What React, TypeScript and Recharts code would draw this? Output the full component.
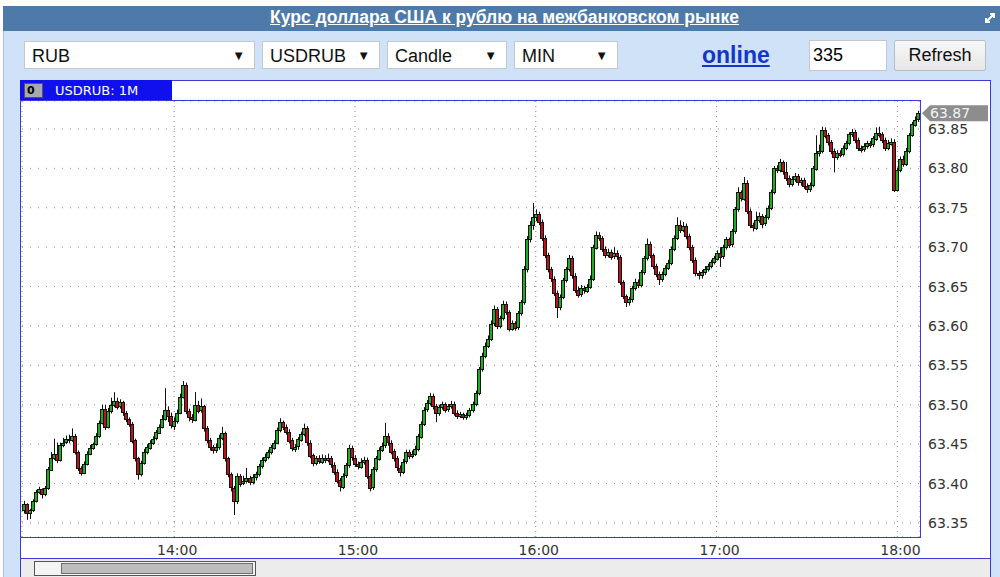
import React from "react";
import {
  ComposedChart,
  Bar,
  XAxis,
  YAxis,
  CartesianGrid,
  ReferenceLine,
} from "recharts";

// USD/RUB one-minute candles, 13:10 .. 18:07
const startMinute = 790; // 13:10, minutes from midnight
const firstOpen = 63.366;

const closes = [
  63.374, 63.362, 63.366, 63.378, 63.389, 63.393, 63.387, 63.394, 63.418, 63.433,
  63.438, 63.430, 63.449, 63.452, 63.456, 63.455, 63.460, 63.440, 63.420, 63.414,
  63.425, 63.438, 63.445, 63.450, 63.460, 63.477, 63.495, 63.472, 63.492, 63.500,
  63.505, 63.498, 63.503, 63.490, 63.482, 63.476, 63.455, 63.432, 63.412, 63.426,
  63.440, 63.446, 63.452, 63.457, 63.465, 63.472, 63.482, 63.494, 63.486, 63.474,
  63.480, 63.490, 63.510, 63.525, 63.492, 63.484, 63.481, 63.500, 63.493, 63.498,
  63.470, 63.455, 63.446, 63.442, 63.446, 63.458, 63.464, 63.432, 63.412, 63.395,
  63.378, 63.410, 63.400, 63.403, 63.407, 63.402, 63.408, 63.412, 63.422, 63.430,
  63.434, 63.440, 63.446, 63.452, 63.468, 63.478, 63.472, 63.466, 63.455, 63.445,
  63.447, 63.456, 63.463, 63.470, 63.452, 63.436, 63.426, 63.432, 63.428, 63.433,
  63.430, 63.432, 63.424, 63.415, 63.404, 63.396, 63.410, 63.423, 63.445, 63.433,
  63.425, 63.422, 63.428, 63.430, 63.410, 63.395, 63.418, 63.432, 63.443, 63.448,
  63.460, 63.452, 63.441, 63.432, 63.420, 63.415, 63.428, 63.440, 63.435, 63.438,
  63.444, 63.460, 63.476, 63.494, 63.502, 63.511, 63.498, 63.489, 63.497, 63.501,
  63.494, 63.498, 63.501, 63.490, 63.486, 63.488, 63.484, 63.487, 63.493, 63.501,
  63.515, 63.545, 63.562, 63.575, 63.584, 63.603, 63.621, 63.600, 63.610, 63.628,
  63.618, 63.597, 63.604, 63.598, 63.616, 63.630, 63.672, 63.710, 63.728, 63.738,
  63.742, 63.732, 63.712, 63.690, 63.672, 63.660, 63.642, 63.624, 63.637, 63.658,
  63.672, 63.686, 63.664, 63.646, 63.640, 63.648, 63.645, 63.650, 63.660, 63.700,
  63.716, 63.712, 63.698, 63.690, 63.694, 63.688, 63.692, 63.688, 63.656, 63.638,
  63.630, 63.634, 63.648, 63.656, 63.652, 63.668, 63.686, 63.704, 63.690, 63.676,
  63.666, 63.660, 63.666, 63.674, 63.680, 63.698, 63.712, 63.728, 63.722, 63.727,
  63.714, 63.700, 63.684, 63.667, 63.664, 63.668, 63.672, 63.676, 63.681, 63.686,
  63.693, 63.688, 63.700, 63.710, 63.703, 63.720, 63.748, 63.770, 63.762, 63.782,
  63.746, 63.728, 63.725, 63.735, 63.740, 63.730, 63.738, 63.750, 63.770, 63.800,
  63.798, 63.808, 63.796, 63.788, 63.780, 63.786, 63.790, 63.782, 63.785, 63.778,
  63.774, 63.779, 63.800, 63.820, 63.822, 63.849, 63.842, 63.833, 63.822, 63.815,
  63.820, 63.818, 63.826, 63.832, 63.843, 63.846, 63.836, 63.826, 63.824, 63.828,
  63.832, 63.830, 63.838, 63.845, 63.843, 63.836, 63.826, 63.832, 63.834, 63.773,
  63.798, 63.812, 63.806, 63.822, 63.842, 63.856, 63.862, 63.870,
];

const highs = [
  63.378, 63.375, 63.368, 63.380, 63.392, 63.396, 63.394, 63.397, 63.421, 63.440,
  63.457, 63.452, 63.452, 63.458, 63.461, 63.462, 63.470, 63.463, 63.442, 63.422,
  63.428, 63.441, 63.449, 63.452, 63.464, 63.480, 63.500, 63.500, 63.496, 63.509,
  63.516, 63.509, 63.507, 63.505, 63.492, 63.484, 63.478, 63.457, 63.434, 63.429,
  63.444, 63.450, 63.455, 63.460, 63.468, 63.475, 63.487, 63.521, 63.498, 63.490,
  63.484, 63.494, 63.514, 63.530, 63.528, 63.495, 63.488, 63.516, 63.505, 63.508,
  63.500, 63.473, 63.458, 63.449, 63.451, 63.462, 63.472, 63.466, 63.434, 63.414,
  63.397, 63.413, 63.412, 63.410, 63.420, 63.410, 63.412, 63.415, 63.425, 63.433,
  63.438, 63.443, 63.449, 63.455, 63.471, 63.483, 63.480, 63.475, 63.469, 63.458,
  63.450, 63.459, 63.466, 63.476, 63.473, 63.455, 63.438, 63.435, 63.436, 63.437,
  63.436, 63.438, 63.435, 63.427, 63.418, 63.407, 63.413, 63.426, 63.449, 63.448,
  63.436, 63.428, 63.432, 63.434, 63.433, 63.412, 63.421, 63.435, 63.446, 63.452,
  63.477, 63.464, 63.455, 63.444, 63.435, 63.423, 63.431, 63.443, 63.443, 63.442,
  63.448, 63.463, 63.479, 63.497, 63.506, 63.515, 63.514, 63.501, 63.500, 63.504,
  63.503, 63.501, 63.505, 63.504, 63.493, 63.491, 63.490, 63.490, 63.496, 63.504,
  63.518, 63.548, 63.566, 63.579, 63.588, 63.607, 63.626, 63.624, 63.613, 63.632,
  63.631, 63.620, 63.607, 63.606, 63.619, 63.633, 63.676, 63.714, 63.733, 63.756,
  63.748, 63.745, 63.735, 63.715, 63.693, 63.675, 63.663, 63.645, 63.640, 63.661,
  63.675, 63.690, 63.689, 63.667, 63.650, 63.652, 63.651, 63.653, 63.664, 63.703,
  63.720, 63.719, 63.714, 63.701, 63.698, 63.697, 63.700, 63.696, 63.690, 63.658,
  63.640, 63.637, 63.651, 63.660, 63.659, 63.671, 63.689, 63.711, 63.707, 63.692,
  63.679, 63.669, 63.669, 63.677, 63.684, 63.701, 63.715, 63.738, 63.734, 63.732,
  63.730, 63.717, 63.703, 63.687, 63.670, 63.671, 63.676, 63.679, 63.684, 63.689,
  63.696, 63.700, 63.703, 63.713, 63.712, 63.723, 63.751, 63.776, 63.772, 63.789,
  63.785, 63.749, 63.731, 63.745, 63.744, 63.742, 63.741, 63.753, 63.773, 63.803,
  63.804, 63.812, 63.810, 63.808, 63.791, 63.790, 63.794, 63.793, 63.788, 63.788,
  63.781, 63.782, 63.803, 63.842, 63.830, 63.853, 63.852, 63.845, 63.836, 63.825,
  63.823, 63.823, 63.829, 63.835, 63.846, 63.850, 63.849, 63.839, 63.829, 63.832,
  63.835, 63.835, 63.841, 63.852, 63.853, 63.846, 63.839, 63.836, 63.838, 63.837,
  63.801, 63.815, 63.816, 63.826, 63.845, 63.859, 63.866, 63.873,
];

const lows = [
  63.362, 63.354, 63.355, 63.364, 63.376, 63.387, 63.381, 63.384, 63.392, 63.416,
  63.430, 63.426, 63.428, 63.446, 63.450, 63.451, 63.453, 63.437, 63.416, 63.410,
  63.412, 63.423, 63.436, 63.443, 63.448, 63.458, 63.475, 63.468, 63.470, 63.489,
  63.497, 63.494, 63.495, 63.486, 63.478, 63.472, 63.451, 63.428, 63.405, 63.409,
  63.424, 63.437, 63.443, 63.449, 63.455, 63.463, 63.470, 63.480, 63.478, 63.470,
  63.468, 63.476, 63.488, 63.508, 63.488, 63.479, 63.477, 63.479, 63.489, 63.490,
  63.466, 63.451, 63.442, 63.438, 63.439, 63.443, 63.455, 63.428, 63.408, 63.390,
  63.360, 63.374, 63.396, 63.398, 63.401, 63.398, 63.399, 63.404, 63.409, 63.419,
  63.427, 63.431, 63.437, 63.443, 63.450, 63.465, 63.468, 63.462, 63.451, 63.441,
  63.440, 63.443, 63.453, 63.460, 63.448, 63.432, 63.422, 63.423, 63.425, 63.425,
  63.426, 63.427, 63.420, 63.411, 63.400, 63.390, 63.393, 63.407, 63.420, 63.429,
  63.421, 63.418, 63.419, 63.424, 63.406, 63.390, 63.392, 63.415, 63.429, 63.440,
  63.445, 63.448, 63.437, 63.428, 63.416, 63.409, 63.412, 63.425, 63.431, 63.432,
  63.435, 63.441, 63.457, 63.473, 63.491, 63.499, 63.494, 63.478, 63.486, 63.494,
  63.490, 63.491, 63.495, 63.486, 63.482, 63.483, 63.481, 63.481, 63.484, 63.490,
  63.498, 63.512, 63.542, 63.559, 63.572, 63.581, 63.600, 63.596, 63.597, 63.607,
  63.614, 63.593, 63.594, 63.594, 63.595, 63.613, 63.627, 63.668, 63.706, 63.722,
  63.733, 63.728, 63.708, 63.686, 63.668, 63.656, 63.638, 63.610, 63.620, 63.634,
  63.655, 63.669, 63.660, 63.642, 63.636, 63.637, 63.641, 63.642, 63.647, 63.657,
  63.697, 63.708, 63.694, 63.686, 63.687, 63.684, 63.685, 63.684, 63.652, 63.634,
  63.624, 63.626, 63.630, 63.645, 63.648, 63.649, 63.665, 63.683, 63.686, 63.672,
  63.662, 63.652, 63.656, 63.663, 63.671, 63.677, 63.695, 63.709, 63.718, 63.719,
  63.710, 63.696, 63.680, 63.663, 63.659, 63.660, 63.665, 63.669, 63.673, 63.678,
  63.683, 63.675, 63.685, 63.697, 63.699, 63.700, 63.717, 63.745, 63.758, 63.759,
  63.742, 63.724, 63.720, 63.722, 63.731, 63.724, 63.727, 63.735, 63.747, 63.767,
  63.794, 63.795, 63.792, 63.784, 63.776, 63.777, 63.783, 63.778, 63.778, 63.774,
  63.769, 63.770, 63.776, 63.797, 63.815, 63.819, 63.838, 63.829, 63.818, 63.795,
  63.811, 63.814, 63.815, 63.823, 63.829, 63.840, 63.832, 63.822, 63.820, 63.821,
  63.825, 63.826, 63.827, 63.835, 63.839, 63.832, 63.822, 63.823, 63.829, 63.770,
  63.771, 63.795, 63.802, 63.803, 63.819, 63.840, 63.853, 63.859,
];

const hourTicks = [840, 900, 960, 1020, 1080];
const hourLabels = ["14:00", "15:00", "16:00", "17:00", "18:00"];
const priceTicks = [63.35, 63.4, 63.45, 63.5, 63.55, 63.6, 63.65, 63.7, 63.75, 63.8, 63.85];

const candles = closes.map((close, i) => {
  const open = i === 0 ? firstOpen : closes[i - 1];
  return {
    t: startMinute + i,
    open,
    close,
    high: highs[i],
    low: lows[i],
    range: [lows[i], highs[i]],
  };
});
const lastClose = closes[closes.length - 1];

const UP = "#1fae1f";
const DOWN = "#b8141c";
const BLUE_LINE = "#3a3ad6";
const AXIS_FONT = "'DejaVu Sans', sans-serif";
const UI_FONT = "'Liberation Sans', Arial, sans-serif";

function Candle(props: any) {
  const { x, y, width, height, payload } = props;
  if (!payload || x == null || y == null) return null;
  const top = Math.min(y, y + height);
  const h = Math.abs(height);
  const span = payload.high - payload.low || 1;
  const yOf = (v: number) => top + ((payload.high - v) / span) * h;
  const cx = Math.round(x + width / 2);
  const yO = yOf(payload.open);
  const yC = yOf(payload.close);
  const bodyTop = Math.round(Math.min(yO, yC)) + 0.5;
  const bodyH = Math.max(Math.round(Math.abs(yC - yO)), 1);
  const up = payload.close >= payload.open;
  return (
    <g>
      <line x1={cx + 0.5} x2={cx + 0.5} y1={top} y2={top + h} stroke="#111" strokeWidth={1} />
      <rect
        x={cx - 1.5}
        y={bodyTop}
        width={3}
        height={bodyH}
        fill={up ? UP : DOWN}
        stroke="#111"
        strokeWidth={1}
      />
    </g>
  );
}

function PriceBadge(props: any) {
  const vb = props.viewBox;
  if (!vb) return null;
  const x0 = vb.x + vb.width + 2;
  const yc = vb.y;
  return (
    <g>
      <polygon
        points={`${x0},${yc} ${x0 + 8},${yc - 8} ${x0 + 66},${yc - 8} ${x0 + 66},${yc + 8} ${x0 + 8},${yc + 8}`}
        fill="#8d8d8d"
      />
      <text
        x={x0 + 8}
        y={yc + 5}
        fill="#f2f2f2"
        fontSize={14}
        fontFamily={AXIS_FONT}
      >
        {lastClose.toFixed(2)}
      </text>
    </g>
  );
}

function Select({ left, width, label }: { left: number; width: number; label: string }) {
  return (
    <div
      style={{
        position: "absolute",
        left,
        top: 41,
        width,
        height: 28,
        boxSizing: "border-box",
        background: "#fff",
        border: "1px solid #c4c8cc",
        fontFamily: UI_FONT,
        fontSize: 18,
        color: "#111",
      }}
    >
      <span style={{ position: "absolute", left: 7, top: 4 }}>{label}</span>
      <span style={{ position: "absolute", right: 9, top: 6, fontSize: 13 }}>▼</span>
    </div>
  );
}

export default function App() {
  return (
    <div style={{ position: "absolute", left: 0, top: 0, width: 1000, height: 577, background: "#fff", overflow: "hidden" }}>
      {/* light blue frame */}
      <div style={{ position: "absolute", left: 3, top: 6, width: 997, height: 571, background: "#cfe2f7", borderLeft: "1px solid #a9c2df", boxSizing: "border-box" }} />
      {/* title bar */}
      <div
        style={{
          position: "absolute",
          left: 3,
          top: 6,
          width: 997,
          height: 25,
          background: "#4d7aa9",
          color: "#fff",
          fontFamily: UI_FONT,
          fontWeight: "bold",
          fontSize: 17.5,
          textAlign: "center",
          lineHeight: "22px",
        }}
      >
        <span style={{ textDecoration: "underline", position: "relative", left: 3 }}>
          Курс доллара США к рублю на межбанковском рынке
        </span>
        <svg style={{ position: "absolute", left: 981, top: 6 }} width={12} height={12}>
          <path d="M2 10 L10 2 M6 2 H10 V6 M2 6 V10 H6" stroke="#fff" strokeWidth={2} fill="none" />
        </svg>
      </div>

      {/* controls */}
      <Select left={24} width={231} label="RUB" />
      <Select left={262} width={118} label="USDRUB" />
      <Select left={387} width={120} label="Candle" />
      <Select left={514} width={104} label="MIN" />
      <div
        style={{
          position: "absolute",
          left: 702,
          top: 42,
          fontFamily: UI_FONT,
          fontWeight: "bold",
          fontSize: 23,
          color: "#1436c8",
          textDecoration: "underline",
        }}
      >
        online
      </div>
      <div
        style={{
          position: "absolute",
          left: 809,
          top: 40,
          width: 78,
          height: 31,
          boxSizing: "border-box",
          background: "#fff",
          border: "1px solid #c4c8cc",
          fontFamily: UI_FONT,
          fontSize: 18,
          paddingLeft: 3,
          lineHeight: "29px",
        }}
      >
        335
      </div>
      <div
        style={{
          position: "absolute",
          left: 894,
          top: 40,
          width: 92,
          height: 31,
          boxSizing: "border-box",
          background: "linear-gradient(#f8f8f8, #e6e6e6)",
          border: "1px solid #b9bcc0",
          borderRadius: 2,
          fontFamily: UI_FONT,
          fontSize: 18,
          textAlign: "center",
          lineHeight: "29px",
          color: "#111",
        }}
      >
        Refresh
      </div>

      {/* chart panel */}
      <div style={{ position: "absolute", left: 20, top: 80, width: 971, height: 500, background: "#fff", border: `1px solid ${BLUE_LINE}`, boxSizing: "border-box" }} />
      <div
        style={{
          position: "absolute",
          left: 20,
          top: 80,
          width: 152,
          height: 21,
          background: "#1010ee",
          color: "#fff",
          fontFamily: AXIS_FONT,
          fontSize: 13,
          lineHeight: "21px",
        }}
      >
        <div
          style={{
            position: "absolute",
            left: 4,
            top: 3,
            width: 19,
            height: 15,
            background: "#a8a8b0",
            border: "1px solid #555",
            boxSizing: "border-box",
            color: "#000",
            fontWeight: "bold",
            fontSize: 11,
            lineHeight: "13px",
            paddingLeft: 2,
          }}
        >
          0
        </div>
        <span style={{ position: "absolute", left: 35 }}>USDRUB: 1M</span>
      </div>

      <div style={{ position: "absolute", left: 20, top: 80 }}>
        <ComposedChart
          width={970}
          height={480}
          data={candles}
          margin={{ top: 21, right: 0, bottom: 0, left: 2 }}
        >
          <CartesianGrid vertical={false} stroke="#888" strokeDasharray="1 7" />
          <CartesianGrid horizontal={false} stroke="#888" strokeDasharray="1 4" />
          <XAxis
            dataKey="t"
            type="number"
            domain={[startMinute - 0.5, startMinute + closes.length - 0.5]}
            allowDataOverflow
            ticks={hourTicks}
            tickFormatter={(v: number) => hourLabels[hourTicks.indexOf(v)]}
            axisLine={false}
            tickLine={false}
            height={23}
            tick={{ fill: "#333", fontSize: 14, fontFamily: AXIS_FONT, dx: 3 }}
          />
          <YAxis
            orientation="right"
            type="number"
            domain={[63.3322, 63.8855]}
            allowDataOverflow
            ticks={priceTicks}
            tickFormatter={(v: number) => v.toFixed(2)}
            axisLine={false}
            tickLine={false}
            width={70}
            tick={{ fill: "#333", fontSize: 14, fontFamily: AXIS_FONT }}
          />
          <Bar
            dataKey="range"
            barSize={3}
            isAnimationActive={false}
            shape={(p: any) => <Candle {...p} />}
          />
          <ReferenceLine
            y={lastClose}
            stroke="none"
            ifOverflow="visible"
            label={<PriceBadge />}
          />
        </ComposedChart>
      </div>

      {/* plot frame */}
      <div style={{ position: "absolute", left: 20, top: 100, width: 901, height: 438, border: `1px solid ${BLUE_LINE}`, boxSizing: "border-box", pointerEvents: "none" }} />

      {/* scroll strip */}
      <div style={{ position: "absolute", left: 21, top: 558, width: 969, height: 19, background: "#ececec", borderTop: `1px solid ${BLUE_LINE}`, boxSizing: "border-box" }} />
      <div style={{ position: "absolute", left: 34, top: 561, width: 222, height: 15, border: "1px solid #555", boxSizing: "border-box", background: "#f4f4f4" }}>
        <div style={{ position: "absolute", left: 26, top: 1, width: 192, height: 11, background: "#bdbdbd", border: "1px solid #6e6e6e", boxSizing: "border-box" }} />
      </div>
    </div>
  );
}
